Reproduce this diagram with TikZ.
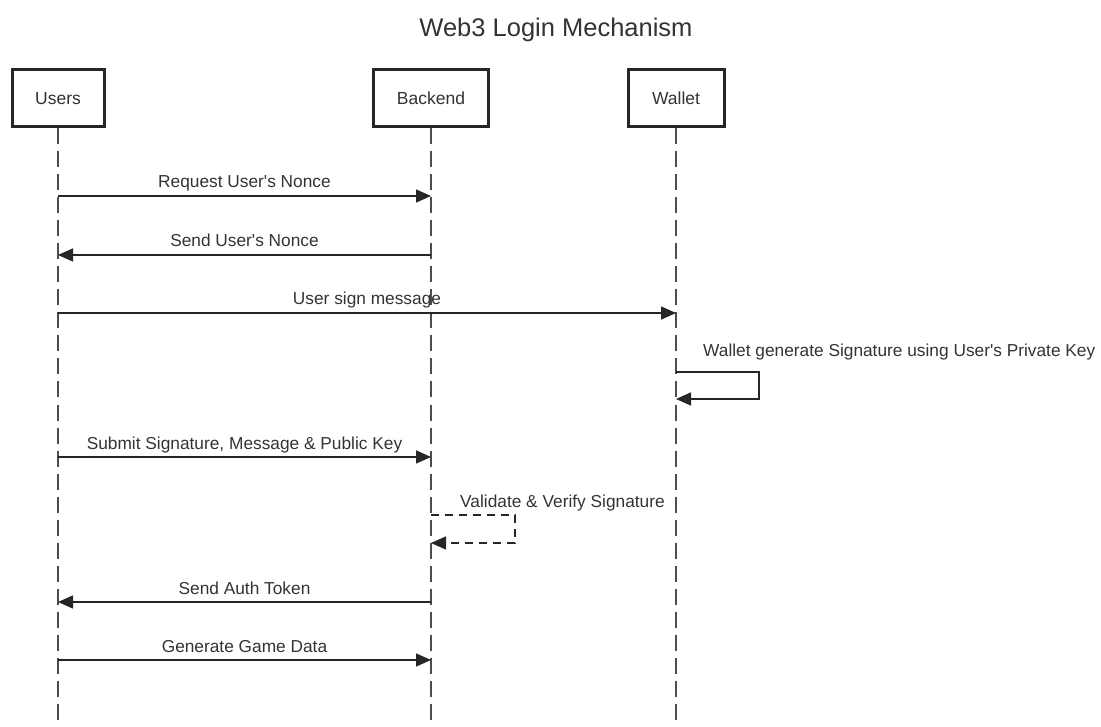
\documentclass[tikz,border=0pt]{standalone}
\usepackage{fontspec}
\setmainfont{Liberation Sans}
\usetikzlibrary{arrows.meta}
\newcommand\myapos{\textquotesingle}
\begin{document}
\begin{tikzpicture}[x=1pt,y=-1pt,
  actor/.style={draw=black!85, line width=3pt, fill=white, minimum height=57pt, inner sep=0pt,
    font=\fontsize{17.5}{20}\selectfont, text=black!80},
  life/.style={draw=black!70, line width=1.6pt, dash pattern=on 16pt off 7pt},
  msg/.style={draw=black!85, line width=1.5pt, -{Triangle[length=15pt,width=13pt]}},
  selfmsg/.style={msg, dash pattern=on 8pt off 6pt},
  lbl/.style={font=\fontsize{17.3}{20}\selectfont, text=black!80, inner sep=0pt, anchor=base},
  lblw/.style={lbl, anchor=base west}
]
\useasboundingbox (0,0) rectangle (1101,727);

\node[lbl, font=\fontsize{25.5}{30}\selectfont] (title) at (556,37) {Web3 Login Mechanism};

\node[actor, minimum width=92pt] (users) at (58,98.5) {Users};
\node[actor, minimum width=115pt] (backend) at (431,98.5) {Backend};
\node[actor, minimum width=96pt] (wallet) at (676,98.5) {Wallet};

\coordinate (ue) at (58,727);
\coordinate (be) at (431,727);
\coordinate (we) at (676,727);
\draw[life] (users.south) -- (ue);
\draw[life] (backend.south) -- (be);
\draw[life] (wallet.south) -- (we);

% 1
\coordinate (u1) at (58,196); \coordinate (b1) at (431,196);
\draw[msg] (u1) -- (b1);
\node[lbl] (l1) at (244.5,188) {Request User\myapos s Nonce};
% 2
\coordinate (u2) at (58,255); \coordinate (b2) at (431,255);
\draw[msg] (b2) -- (u2);
\node[lbl] (l2) at (244.5,247) {Send User\myapos s Nonce};
% 3
\coordinate (u3) at (58,313); \coordinate (w3) at (676,313);
\draw[msg] (u3) -- (w3);
\node[lbl] (l3) at (367,305) {User sign message};
% 4 self
\coordinate (w4a) at (676,372); \coordinate (w4b) at (676,399);
\draw[msg] (w4a) -- ++(83,0) |- (w4b);
\node[lblw] (l4) at (703,357) {Wallet generate Signature using User\myapos s Private Key};
% 5
\coordinate (u5) at (58,457); \coordinate (b5) at (431,457);
\draw[msg] (u5) -- (b5);
\node[lbl] (l5) at (244.5,449) {Submit Signature, Message \& Public Key};
% 6 self dashed
\coordinate (b6a) at (431,515); \coordinate (b6b) at (431,543);
\draw[selfmsg] (b6a) -- ++(84,0) |- (b6b);
\node[lblw] (l6) at (460,507) {Validate \& Verify Signature};
% 7
\coordinate (u7) at (58,602); \coordinate (b7) at (431,602);
\draw[msg] (b7) -- (u7);
\node[lbl] (l7) at (244.5,594) {Send Auth Token};
% 8
\coordinate (u8) at (58,660); \coordinate (b8) at (431,660);
\draw[msg] (u8) -- (b8);
\node[lbl] (l8) at (244.5,652) {Generate Game Data};
\end{tikzpicture}
\end{document}
